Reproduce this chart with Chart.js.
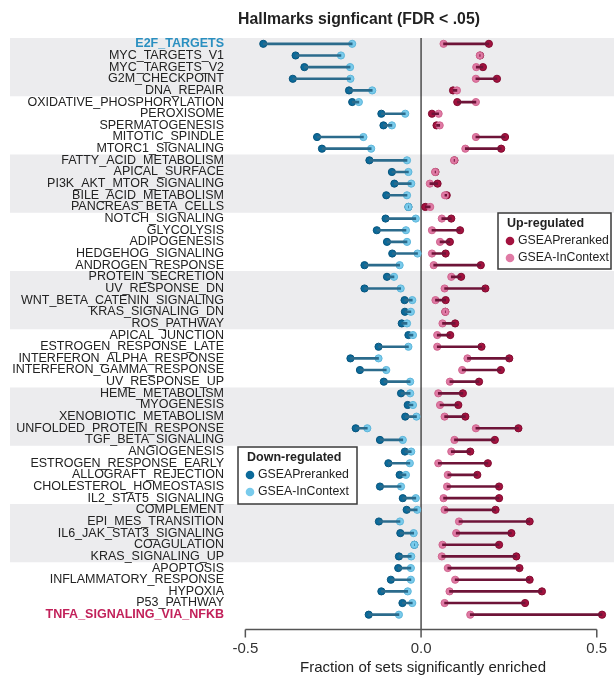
<!DOCTYPE html>
<html>
<head>
<meta charset="utf-8">
<script src="https://cdn.jsdelivr.net/npm/chart.js@4/dist/chart.umd.min.js"></script>
<style>
  html, body { margin: 0; padding: 0; background: #fff; }
  #wrap { width: 614px; height: 676px; position: relative; }
</style>
</head>
<body>
<div id="wrap"><canvas id="chart"></canvas></div>
<script>
// hallmark gene sets, top to bottom
const hallmarks = [
  "E2F_TARGETS", "MYC_TARGETS_V1", "MYC_TARGETS_V2", "G2M_CHECKPOINT", "DNA_REPAIR",
  "OXIDATIVE_PHOSPHORYLATION", "PEROXISOME", "SPERMATOGENESIS", "MITOTIC_SPINDLE", "MTORC1_SIGNALING",
  "FATTY_ACID_METABOLISM", "APICAL_SURFACE", "PI3K_AKT_MTOR_SIGNALING", "BILE_ACID_METABOLISM", "PANCREAS_BETA_CELLS",
  "NOTCH_SIGNALING", "GLYCOLYSIS", "ADIPOGENESIS", "HEDGEHOG_SIGNALING", "ANDROGEN_RESPONSE",
  "PROTEIN_SECRETION", "UV_RESPONSE_DN", "WNT_BETA_CATENIN_SIGNALING", "KRAS_SIGNALING_DN", "ROS_PATHWAY",
  "APICAL_JUNCTION", "ESTROGEN_RESPONSE_LATE", "INTERFERON_ALPHA_RESPONSE", "INTERFERON_GAMMA_RESPONSE", "UV_RESPONSE_UP",
  "HEME_METABOLISM", "MYOGENESIS", "XENOBIOTIC_METABOLISM", "UNFOLDED_PROTEIN_RESPONSE", "TGF_BETA_SIGNALING",
  "ANGIOGENESIS", "ESTROGEN_RESPONSE_EARLY", "ALLOGRAFT_REJECTION", "CHOLESTEROL_HOMEOSTASIS", "IL2_STAT5_SIGNALING",
  "COMPLEMENT", "EPI_MES_TRANSITION", "IL6_JAK_STAT3_SIGNALING", "COAGULATION", "KRAS_SIGNALING_UP",
  "APOPTOSIS", "INFLAMMATORY_RESPONSE", "HYPOXIA", "P53_PATHWAY", "TNFA_SIGNALING_VIA_NFKB"
];

// down-regulated fraction (negative)
const downPreranked = [
  -0.449, -0.357, -0.332, -0.365, -0.205,
  -0.196, -0.113, -0.107, -0.296, -0.282,
  -0.147, -0.083, -0.076, -0.099, -0.036,
  -0.101, -0.126, -0.097, -0.082, -0.161,
  -0.097, -0.161, -0.047, -0.046, -0.055,
  -0.036, -0.121, -0.201, -0.174, -0.106,
  -0.057, -0.038, -0.045, -0.186, -0.117,
  -0.046, -0.093, -0.061, -0.117, -0.052,
  -0.041, -0.120, -0.059, -0.019, -0.063,
  -0.065, -0.086, -0.113, -0.053, -0.149
];
const downInContext = [
  -0.196, -0.228, -0.202, -0.201, -0.139,
  -0.177, -0.045, -0.083, -0.164, -0.142,
  -0.040, -0.036, -0.028, -0.040, -0.036,
  -0.015, -0.043, -0.040, -0.010, -0.061,
  -0.077, -0.058, -0.025, -0.029, -0.040,
  -0.023, -0.036, -0.121, -0.099, -0.031,
  -0.031, -0.023, -0.013, -0.153, -0.052,
  -0.028, -0.032, -0.043, -0.057, -0.015,
  -0.011, -0.060, -0.021, -0.019, -0.028,
  -0.029, -0.029, -0.038, -0.025, -0.063
];

// up-regulated fraction
const upPreranked = [
  0.193, 0.168, 0.176, 0.216, 0.091,
  0.103, 0.031, 0.044, 0.239, 0.228,
  0.095, 0.041, 0.047, 0.073, 0.012,
  0.086, 0.111, 0.082, 0.070, 0.170,
  0.114, 0.183, 0.070, 0.069, 0.097,
  0.083, 0.172, 0.251, 0.227, 0.165,
  0.119, 0.106, 0.126, 0.277, 0.210,
  0.140, 0.190, 0.160, 0.222, 0.222,
  0.212, 0.309, 0.257, 0.222, 0.271,
  0.280, 0.309, 0.344, 0.296, 0.515
];
const upInContext = [
  0.064, 0.167, 0.157, 0.156, 0.102,
  0.156, 0.050, 0.053, 0.156, 0.126,
  0.094, 0.040, 0.025, 0.068, 0.026,
  0.059, 0.031, 0.054, 0.031, 0.036,
  0.086, 0.067, 0.041, 0.069, 0.061,
  0.046, 0.046, 0.132, 0.117, 0.082,
  0.049, 0.054, 0.067, 0.156, 0.095,
  0.086, 0.049, 0.076, 0.074, 0.064,
  0.067, 0.108, 0.100, 0.061, 0.059,
  0.076, 0.097, 0.081, 0.067, 0.140
];

const xTicks = [-0.5, 0.0, 0.5];
const xTickLabels = ['-0.5', '0.0', '0.5'];

const FONT = "'Liberation Sans', Arial, Helvetica, sans-serif";
const C = {
  downDark: '#0b6a9a', downLight: '#79cbec', downLine: '#2b6b8c',
  upDark: '#a3123f', upLight: '#e07aa5', upLine: '#6e1438',
  band: '#ececee', text: '#222222'
};

Chart.defaults.font.family = FONT;
Chart.defaults.color = C.text;

// grey bands every 5 rows (behind the labels too)
const bands = {
  id: 'bands',
  beforeDraw(chart) {
    const { ctx, scales } = chart;
    const y = scales.y;
    const half = (y.getPixelForValue(1) - y.getPixelForValue(0)) / 2;
    ctx.save();
    ctx.fillStyle = C.band;
    for (let b = 0; b < hallmarks.length; b += 10) {
      const top = y.getPixelForValue(b) - half;
      const bot = y.getPixelForValue(b + 4) + half;
      ctx.fillRect(10, top, chart.width - 10, bot - top);
    }
    ctx.restore();
  }
};

// zero line, the detached x axis with its labels, title and both legend boxes
const decor = {
  id: 'decor',
  beforeDatasetsDraw(chart) {
    const { ctx, chartArea, scales } = chart;
    const x = scales.x;
    const axisY = chartArea.bottom + 9;
    ctx.save();
    ctx.strokeStyle = '#333';
    ctx.lineWidth = 1.3;
    ctx.beginPath();
    ctx.moveTo(x.getPixelForValue(0), chartArea.top);
    ctx.lineTo(x.getPixelForValue(0), axisY);
    ctx.stroke();
    ctx.strokeStyle = '#555';
    ctx.lineWidth = 1.5;
    ctx.beginPath();
    ctx.moveTo(x.getPixelForValue(xTicks[0]), axisY);
    ctx.lineTo(x.getPixelForValue(xTicks[xTicks.length - 1]), axisY);
    xTicks.forEach(t => {
      const px = x.getPixelForValue(t);
      ctx.moveTo(px, axisY);
      ctx.lineTo(px, axisY + 8);
    });
    ctx.stroke();
    ctx.fillStyle = '#333';
    ctx.font = `15px ${FONT}`;
    ctx.textAlign = 'center';
    ctx.textBaseline = 'middle';
    xTicks.forEach((t, i) => ctx.fillText(xTickLabels[i], x.getPixelForValue(t), axisY + 19));
    ctx.restore();
  },
  afterDraw(chart) {
    const { ctx } = chart;
    ctx.save();
    ctx.fillStyle = C.text;
    ctx.font = `bold 15.8px ${FONT}`;
    ctx.textAlign = 'center';
    ctx.textBaseline = 'middle';
    ctx.fillText('Hallmarks signficant (FDR < .05)', 359, 20);

    const box = (x0, y0, w, h, title, dark, light) => {
      ctx.fillStyle = '#fff';
      ctx.fillRect(x0, y0, w, h);
      ctx.strokeStyle = '#3a3a3a';
      ctx.lineWidth = 1.5;
      ctx.strokeRect(x0, y0, w, h);
      ctx.textAlign = 'left';
      ctx.fillStyle = C.text;
      ctx.font = `bold 12.5px ${FONT}`;
      ctx.fillText(title, x0 + 9, y0 + 11);
      ctx.font = `12.3px ${FONT}`;
      [[dark, 'GSEAPreranked', 28], [light, 'GSEA-InContext', 45]].forEach(([col, lab, dy]) => {
        ctx.beginPath();
        ctx.arc(x0 + 12, y0 + dy, 4.3, 0, Math.PI * 2);
        ctx.fillStyle = col;
        ctx.fill();
        ctx.fillStyle = C.text;
        ctx.fillText(lab, x0 + 20, y0 + dy);
      });
    };
    box(498, 213, 113, 56, 'Up-regulated', C.upDark, C.upLight);
    box(238, 447, 119, 57, 'Down-regulated', C.downDark, C.downLight);
    ctx.restore();
  }
};

const dots = (label, data, fill, border) => ({
  type: 'line', label, data, showLine: false,
  pointRadius: 3.6, pointHoverRadius: 3.6,
  pointBackgroundColor: fill, pointBorderColor: border, pointBorderWidth: 1
});

new Chart(document.getElementById('chart'), {
  type: 'bar',
  data: {
    labels: hallmarks,
    datasets: [
      { label: 'down range', data: hallmarks.map((_, i) => [downPreranked[i], downInContext[i]]),
        backgroundColor: C.downLine, barThickness: 2, grouped: false },
      { label: 'up range', data: hallmarks.map((_, i) => [upInContext[i], upPreranked[i]]),
        backgroundColor: C.upLine, barThickness: 2, grouped: false },
      dots('Down GSEA-InContext', downInContext, C.downLight, '#5fb6da'),
      dots('Down GSEAPreranked', downPreranked, C.downDark, '#08557d'),
      dots('Up GSEA-InContext', upInContext, C.upLight, '#d0668f'),
      dots('Up GSEAPreranked', upPreranked, C.upDark, '#820c31')
    ]
  },
  options: {
    indexAxis: 'y',
    responsive: true,
    maintainAspectRatio: false,
    animation: false,
    layout: { autoPadding: false, padding: { top: 38, right: 0, left: 0, bottom: 0 } },
    plugins: { legend: { display: false }, tooltip: { enabled: false } },
    scales: {
      y: {
        type: 'category',
        offset: true,
        grid: { display: false, tickLength: 8 },
        border: { display: false },
        afterFit(scale) { scale.width = 232; },
        ticks: {
          padding: 0,
          autoSkip: false,
          color: c => c.index === 0 ? '#2a8fc0' : (c.index === hallmarks.length - 1 ? '#c2215a' : '#222'),
          font: c => (c.index === 0 || c.index === hallmarks.length - 1)
            ? { size: 12.5, weight: 'bold', family: FONT }
            : { size: 12.5, family: FONT }
        }
      },
      x: {
        type: 'linear',
        min: -0.538, max: 0.549,
        grid: { display: false },
        border: { display: false },
        afterFit(scale) { scale.height = 55.5; },
        ticks: { display: false },
        title: {
          display: true,
          text: 'Fraction of sets significantly enriched',
          color: '#222',
          font: { size: 15, family: FONT, lineHeight: 1.1 },
          padding: { top: 0, bottom: 0 }
        }
      }
    }
  },
  plugins: [bands, decor]
});
</script>
</body>
</html>
